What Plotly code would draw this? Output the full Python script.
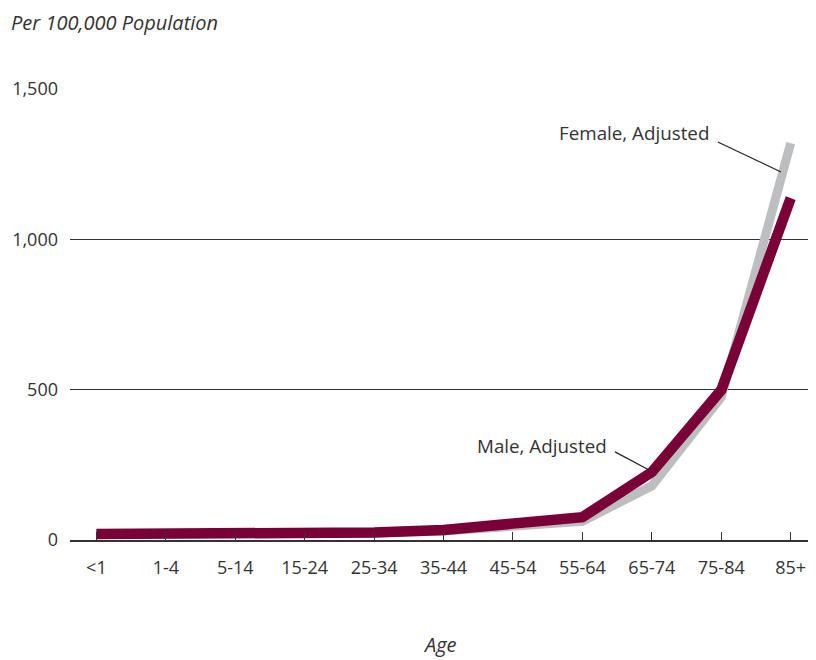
import plotly.graph_objects as go

categories = ["<1", "1-4", "5-14", "15-24", "25-34", "35-44", "45-54", "55-64", "65-74", "75-84", "85+"]
female_adjusted = [18, 18, 18, 20, 23, 30, 47, 62, 180, 475, 1320]
male_adjusted = [20, 20, 20, 22, 25, 33, 52, 76, 226, 499, 1137]
y_ticks = [0, 500, 1000, 1500]
y_tick_labels = ["0", "500", "1,000", "1,500"]

FONT = "Open Sans"
TXT = "#333333"
x_idx = list(range(len(categories)))

fig = go.Figure()
fig.add_trace(go.Scatter(x=x_idx, y=female_adjusted, mode="lines", name="Female, Adjusted",
                         line=dict(color="#bcbec0", width=9), hoverinfo="skip"))
fig.add_trace(go.Scatter(x=x_idx, y=male_adjusted, mode="lines", name="Male, Adjusted",
                         line=dict(color="#7a0038", width=10.5), hoverinfo="skip"))

fig.update_layout(
    width=808, height=652,
    margin=dict(l=62, r=1, t=81, b=120),
    paper_bgcolor="white", plot_bgcolor="white",
    showlegend=False,
    font=dict(family=FONT, size=18, color=TXT),
    xaxis=dict(
        range=[-0.38, 10.35], tickmode="array", tickvals=x_idx, ticktext=categories,
        showgrid=False, zeroline=False, showline=True, linecolor=TXT, linewidth=1.5,
        ticks="inside", ticklen=8, tickcolor=TXT, tickwidth=1.2,
        ticklabelstandoff=11, tickfont=dict(size=18, color=TXT),
    ),
    yaxis=dict(
        range=[0, 1500], tickmode="array", tickvals=y_ticks, ticktext=y_tick_labels,
        showgrid=True, gridcolor=TXT, gridwidth=1, zeroline=False, showline=False,
        ticks="", ticklabelstandoff=11, tickfont=dict(size=18, color=TXT),
    ),
    annotations=[
        dict(text="<i>Per 100,000 Population</i>", xref="paper", yref="paper",
             x=-0.0805, y=1 + 81 / 451, xanchor="left", yanchor="top", showarrow=False,
             borderpad=0, font=dict(size=20, color=TXT)),
        dict(text="<i>Age</i>", xref="paper", yref="paper",
             x=0.4966, y=-0.2328, xanchor="center", yanchor="middle", showarrow=False,
             font=dict(size=20, color=TXT)),
        dict(text="Female, Adjusted", x=8.85, y=1353, xanchor="right", yanchor="middle",
             showarrow=False, font=dict(size=18.8, color=TXT)),
        dict(text="Male, Adjusted", x=7.38, y=313, xanchor="right", yanchor="middle",
             showarrow=False, font=dict(size=18.8, color=TXT)),
    ],
    shapes=[
        dict(type="line", x0=8.95, y0=1324, x1=9.86, y1=1224, line=dict(color="#222222", width=1.2)),
        dict(type="line", x0=7.47, y0=293, x1=7.96, y1=233, line=dict(color="#222222", width=1.2)),
    ],
)

fig.write_html("out.html")
